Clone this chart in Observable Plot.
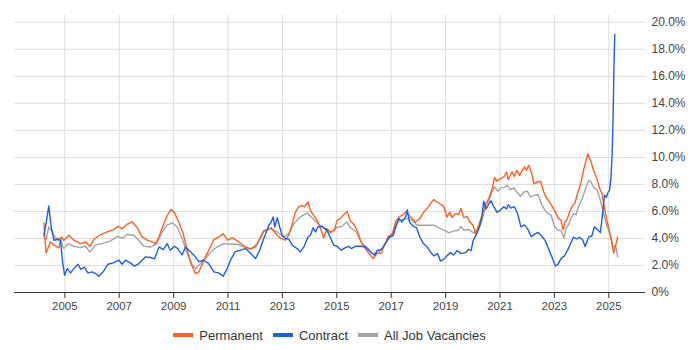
<!DOCTYPE html>
<html><head><meta charset="utf-8">
<script src="https://cdn.jsdelivr.net/npm/d3@7"></script>
<script src="https://cdn.jsdelivr.net/npm/@observablehq/plot@0.6"></script>
<style>
body{margin:0;background:#fff;font-family:"Liberation Sans",Arial,sans-serif;}
#legend{box-sizing:border-box;width:700px;height:30px;padding:0 55px 0 14px;display:flex;justify-content:center;align-items:center;font-size:13px;color:#333;}
.item{display:flex;align-items:center;margin:0 5px;}
.sw{width:20px;height:4px;margin-right:6px;}
</style></head><body><div id="chart"></div><div id="legend"></div>
<script>
const seriesNames = ["Permanent", "Contract", "All Job Vacancies"];
const seriesColors = ["#ff6020", "#1c5fe3", "#a3a3a3"];
const yTicks = [0, 2, 4, 6, 8, 10, 12, 14, 16, 18, 20];
const xTickYears = [2005, 2007, 2009, 2011, 2013, 2015, 2017, 2019, 2021, 2023, 2025];

// [decimal year, percent]
const permanent = [
[2004.23,5.15],[2004.31,2.93],[2004.47,3.74],[2004.66,3.42],[2004.78,3.32],[2004.87,4.11],[2004.96,3.87],
[2005.15,4.24],[2005.33,3.87],[2005.58,3.62],[2005.76,3.74],[2005.92,3.42],[2006.07,3.92],[2006.31,4.29],
[2006.56,4.48],[2006.80,4.66],[2006.95,4.90],[2007.11,4.73],[2007.29,5.05],[2007.48,5.22],[2007.66,4.80],
[2007.84,4.11],[2008.03,3.87],[2008.21,3.74],[2008.33,3.62],[2008.46,4.11],[2008.64,5.10],[2008.79,5.79],
[2008.91,6.16],[2009.03,5.89],[2009.19,5.22],[2009.35,4.36],[2009.50,3.13],[2009.64,2.14],[2009.80,1.40],
[2009.93,1.53],[2010.11,2.39],[2010.29,3.13],[2010.48,3.92],[2010.66,4.11],[2010.82,4.36],[2010.99,3.87],
[2011.15,4.06],[2011.40,3.74],[2011.64,3.37],[2011.83,3.25],[2012.01,3.37],[2012.19,4.00],[2012.31,4.48],
[2012.44,4.66],[2012.59,4.80],[2012.75,4.36],[2012.93,4.00],[2013.11,3.87],[2013.23,4.24],[2013.36,5.10],
[2013.48,5.96],[2013.60,6.33],[2013.73,6.45],[2013.81,6.35],[2013.94,6.70],[2014.03,6.08],[2014.15,5.71],
[2014.28,5.34],[2014.40,4.73],[2014.52,4.06],[2014.64,4.73],[2014.77,4.48],[2014.91,4.60],[2015.01,5.34],
[2015.13,5.47],[2015.23,5.71],[2015.38,6.00],[2015.50,5.30],[2015.65,4.98],[2015.77,4.48],[2015.89,3.74],
[2016.05,3.25],[2016.18,2.88],[2016.34,2.51],[2016.49,2.93],[2016.63,2.88],[2016.75,3.50],[2016.88,4.11],
[2017.04,4.36],[2017.16,5.22],[2017.28,5.59],[2017.40,5.71],[2017.53,5.96],[2017.71,5.59],[2017.89,5.22],
[2018.05,5.47],[2018.20,5.96],[2018.32,6.20],[2018.50,6.75],[2018.57,6.87],[2018.69,6.70],[2018.81,6.53],
[2018.93,6.38],[2019.05,5.59],[2019.15,5.96],[2019.24,5.54],[2019.36,5.84],[2019.48,5.79],[2019.57,6.21],
[2019.67,5.54],[2019.79,5.64],[2019.89,5.22],[2020.01,4.98],[2020.10,4.36],[2020.22,4.98],[2020.34,5.72],
[2020.47,6.58],[2020.59,6.95],[2020.71,7.68],[2020.80,8.50],[2020.89,8.25],[2021.01,8.43],[2021.14,8.55],
[2021.24,8.92],[2021.30,8.35],[2021.44,8.92],[2021.53,8.60],[2021.62,9.04],[2021.72,8.67],[2021.81,9.00],
[2021.90,9.30],[2021.97,9.05],[2022.06,9.41],[2022.15,8.92],[2022.25,8.05],[2022.37,8.18],[2022.49,8.23],
[2022.61,7.44],[2022.73,6.95],[2022.86,6.58],[2023.01,6.08],[2023.13,5.54],[2023.25,5.34],[2023.32,4.64],
[2023.39,5.22],[2023.48,5.47],[2023.58,6.08],[2023.68,6.45],[2023.76,6.63],[2023.85,7.32],[2023.97,8.05],
[2024.07,9.04],[2024.15,9.67],[2024.23,10.25],[2024.32,9.80],[2024.42,9.16],[2024.55,8.50],[2024.67,7.68],
[2024.75,7.32],[2024.88,5.84],[2025.00,4.73],[2025.09,3.86],[2025.18,2.92],[2025.25,3.49],[2025.33,4.11]
];

const contract = [
[2004.23,4.24],[2004.31,5.10],[2004.41,6.40],[2004.50,4.85],[2004.60,3.87],[2004.72,3.92],[2004.84,3.87],
[2004.91,2.39],[2004.99,1.28],[2005.09,1.77],[2005.21,1.45],[2005.33,1.77],[2005.49,2.09],[2005.58,1.72],
[2005.72,1.87],[2005.85,1.45],[2006.00,1.53],[2006.13,1.40],[2006.25,1.20],[2006.41,1.53],[2006.58,2.09],
[2006.78,2.19],[2006.99,2.39],[2007.11,2.09],[2007.23,2.39],[2007.41,2.19],[2007.56,1.95],[2007.72,2.14],
[2007.97,2.64],[2008.15,2.59],[2008.30,2.49],[2008.46,3.37],[2008.62,3.18],[2008.76,3.62],[2008.88,3.13],
[2009.03,3.42],[2009.15,3.25],[2009.31,2.78],[2009.44,3.37],[2009.56,3.13],[2009.74,2.78],[2009.93,2.29],
[2010.11,2.39],[2010.29,2.14],[2010.48,1.53],[2010.66,1.45],[2010.82,1.20],[2010.97,1.77],[2011.09,2.39],
[2011.27,3.03],[2011.46,3.13],[2011.64,3.25],[2011.83,2.90],[2012.01,2.51],[2012.17,3.13],[2012.29,3.87],
[2012.41,4.48],[2012.50,4.98],[2012.59,5.22],[2012.66,5.59],[2012.72,4.85],[2012.81,5.54],[2012.90,4.85],
[2012.99,4.24],[2013.11,4.00],[2013.23,3.95],[2013.36,3.50],[2013.54,3.25],[2013.66,3.00],[2013.79,3.37],
[2013.94,4.11],[2014.03,4.24],[2014.13,4.80],[2014.22,4.48],[2014.30,4.85],[2014.46,4.90],[2014.62,4.66],
[2014.74,4.16],[2014.89,3.50],[2015.01,3.42],[2015.16,3.13],[2015.32,3.32],[2015.44,3.42],[2015.53,3.25],
[2015.69,3.42],[2015.89,3.42],[2016.05,3.37],[2016.24,3.00],[2016.39,2.76],[2016.49,3.13],[2016.58,3.13],
[2016.71,3.37],[2016.83,3.74],[2016.95,4.16],[2017.07,4.20],[2017.19,4.98],[2017.28,5.47],[2017.40,5.22],
[2017.53,5.59],[2017.59,6.13],[2017.67,5.22],[2017.81,4.90],[2017.93,4.80],[2018.05,4.11],[2018.17,3.67],
[2018.32,3.37],[2018.44,3.00],[2018.57,2.71],[2018.71,2.88],[2018.81,2.33],[2018.93,2.45],[2019.05,2.71],
[2019.18,2.95],[2019.30,2.78],[2019.42,3.10],[2019.57,2.88],[2019.73,2.95],[2019.85,3.20],[2019.94,3.10],
[2020.01,3.82],[2020.14,4.32],[2020.26,4.94],[2020.34,5.69],[2020.40,6.75],[2020.49,6.18],[2020.59,6.55],
[2020.67,6.80],[2020.77,6.35],[2020.89,5.93],[2021.01,6.10],[2021.14,6.35],[2021.24,6.18],[2021.30,6.50],
[2021.40,6.25],[2021.53,6.35],[2021.65,5.81],[2021.77,4.86],[2021.90,5.00],[2022.02,4.69],[2022.15,4.12],
[2022.27,4.32],[2022.40,4.44],[2022.52,4.20],[2022.67,3.82],[2022.79,3.20],[2022.92,2.58],[2023.04,1.96],
[2023.13,2.08],[2023.25,2.53],[2023.37,2.71],[2023.48,3.10],[2023.60,3.64],[2023.70,4.09],[2023.82,3.96],
[2023.92,4.09],[2024.04,3.90],[2024.13,3.40],[2024.26,4.09],[2024.38,4.20],[2024.47,4.86],[2024.57,4.69],
[2024.69,4.44],[2024.76,5.60],[2024.84,7.20],[2024.91,7.05],[2024.97,7.40],[2025.03,7.60],[2025.08,8.50],
[2025.12,10.1],[2025.16,13.1],[2025.19,16.8],[2025.22,19.1]
];

const allJobs = [
[2004.23,4.11],[2004.31,3.87],[2004.41,4.85],[2004.53,4.48],[2004.66,4.01],[2004.82,4.01],[2004.96,3.25],
[2005.11,3.62],[2005.33,3.42],[2005.58,3.32],[2005.76,3.42],[2005.92,2.99],[2006.13,3.52],[2006.37,3.62],
[2006.68,3.82],[2006.95,4.16],[2007.11,4.01],[2007.29,4.29],[2007.54,4.24],[2007.72,3.87],[2007.90,3.42],
[2008.15,3.37],[2008.37,3.57],[2008.58,4.48],[2008.76,4.98],[2008.95,5.15],[2009.13,4.85],[2009.31,4.01],
[2009.50,2.90],[2009.68,2.04],[2009.80,1.77],[2009.99,2.14],[2010.17,2.51],[2010.36,3.00],[2010.60,3.37],
[2010.85,3.62],[2011.09,3.57],[2011.34,3.57],[2011.58,3.37],[2011.83,3.18],[2012.07,3.62],[2012.31,4.60],
[2012.56,4.73],[2012.81,4.48],[2013.05,4.11],[2013.23,4.36],[2013.42,5.10],[2013.66,5.59],[2013.91,5.89],
[2014.09,5.54],[2014.30,5.10],[2014.52,4.73],[2014.77,4.41],[2014.99,4.80],[2015.20,4.90],[2015.36,5.22],
[2015.50,4.80],[2015.72,4.48],[2015.93,3.62],[2016.11,3.37],[2016.30,2.88],[2016.49,2.88],[2016.67,3.25],
[2016.85,3.87],[2017.04,4.24],[2017.22,5.22],[2017.40,5.39],[2017.59,5.47],[2017.77,5.34],[2017.95,4.98],
[2018.14,4.98],[2018.38,4.98],[2018.57,4.98],[2018.81,4.73],[2018.99,4.56],[2019.12,4.41],[2019.30,4.56],
[2019.48,4.61],[2019.57,4.90],[2019.67,4.62],[2019.85,4.66],[2019.98,4.49],[2020.10,4.36],[2020.22,4.73],
[2020.34,5.35],[2020.47,6.33],[2020.59,6.83],[2020.71,7.44],[2020.80,7.81],[2020.92,7.50],[2021.04,7.76],
[2021.16,7.78],[2021.26,7.93],[2021.38,7.60],[2021.50,7.75],[2021.62,7.44],[2021.75,7.12],[2021.88,7.44],
[2022.00,7.50],[2022.12,7.07],[2022.27,7.20],[2022.40,7.25],[2022.52,6.58],[2022.64,6.13],[2022.76,5.84],
[2022.88,5.72],[2023.01,4.86],[2023.13,4.61],[2023.25,4.58],[2023.35,4.04],[2023.43,4.73],[2023.51,4.98],
[2023.60,5.47],[2023.70,5.84],[2023.80,5.75],[2023.88,6.33],[2024.00,6.83],[2024.13,7.56],[2024.26,8.30],
[2024.35,8.18],[2024.45,7.76],[2024.57,7.60],[2024.69,6.83],[2024.81,5.84],[2024.94,4.86],[2025.06,4.24],
[2025.16,3.37],[2025.25,3.45],[2025.33,2.63]
];

function toDate(y) {
  const yr = Math.floor(y);
  const s = Date.UTC(yr, 0, 1), e = Date.UTC(yr + 1, 0, 1);
  return new Date(s + (y - yr) * (e - s));
}
const seriesData = [permanent, contract, allJobs];
const rows = [];
seriesData.forEach((arr, i) => arr.forEach(([t, v]) => rows.push({date: toDate(t), value: v, series: seriesNames[i]})));
const xTicks = xTickYears.map(y => toDate(y));
const byName = n => rows.filter(r => r.series === n);

const plot = Plot.plot({
  width: 700, height: 320,
  marginLeft: 14, marginRight: 55, marginTop: 15, marginBottom: 28,
  style: {fontFamily: '"Liberation Sans", Arial, sans-serif', background: "#fff"},
  x: {type: "utc", domain: [toDate(2003.15), toDate(2026.35)]},
  y: {domain: [0, 20.5]},
  marks: [
    Plot.gridY(yTicks.filter(d => d > 0), {stroke: "#dcdcdc", strokeOpacity: 1}),
    Plot.gridX(xTicks, {stroke: "#dcdcdc", strokeOpacity: 1}),
    Plot.line(byName("All Job Vacancies"), {x: "date", y: "value", stroke: seriesColors[2], strokeWidth: 1.4}),
    Plot.line(byName("Permanent"), {x: "date", y: "value", stroke: seriesColors[0], strokeWidth: 1.4}),
    Plot.line(byName("Contract"), {x: "date", y: "value", stroke: seriesColors[1], strokeWidth: 1.4}),
    Plot.ruleY([0], {stroke: "#333", strokeWidth: 1}),
    Plot.axisY(yTicks, {anchor: "right", tickSize: 0, tickPadding: 6, fontSize: 12, fill: "#444",
      tickFormat: d => d === 0 ? "0%" : d.toFixed(1) + "%", label: null}),
    Plot.axisX(xTicks, {tickSize: 6, tickPadding: 3, fontSize: 11.5, fill: "#444", stroke: "#333",
      tickFormat: d => String(d.getUTCFullYear()), label: null})
  ]
});
document.getElementById("chart").appendChild(plot);

const legend = document.getElementById("legend");
seriesNames.forEach((n, i) => {
  const it = document.createElement("div");
  it.className = "item";
  it.innerHTML = `<span class="sw" style="background:${seriesColors[i]}"></span><span>${n}</span>`;
  legend.appendChild(it);
});
</script></body></html>
